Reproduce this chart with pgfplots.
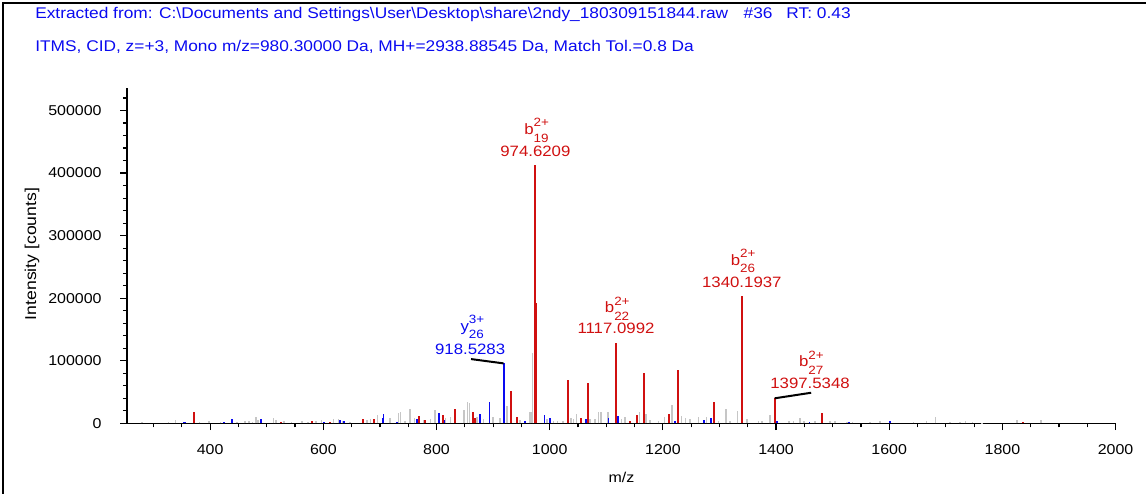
\documentclass[border=0pt]{standalone}
\usepackage{fontspec}
\setmainfont{Liberation Sans}
\usepackage{pgfplots}
\pgfplotsset{compat=1.18}
\definecolor{pkred}{RGB}{208,16,16}
\definecolor{pkblue}{RGB}{10,10,240}
\definecolor{pkgray}{RGB}{198,198,198}
\newcommand{\wide}[1]{\scalebox{1.12}[1]{#1}}
\newcommand{\lab}{\fontsize{10.7}{12}\selectfont}
\newcommand{\ann}{\fontsize{11.25}{13}\selectfont}
% ion label: letter, charge above, index below
\newcommand{\ion}[3]{#1\raisebox{5.5pt}{\rlap{\fontsize{9}{10}\selectfont #2}}\raisebox{-5.8pt}{\fontsize{9}{10}\selectfont #3}}
\tikzset{numlab/.style={anchor=base, font=\ann, inner sep=0pt}}

\begin{document}
\begin{tikzpicture}
\useasboundingbox (-95.25pt,-52.3pt) rectangle (764.25pt,317.5pt);
\draw[line width=1pt] (-93pt,-53pt) -- (-93pt,315.2pt) -- (765pt,315.2pt);
\begin{axis}[
  scale only axis, width=741.45pt, height=251.5pt,
  xmin=253, xmax=2000, ymin=0, ymax=536000,
  axis x line*=bottom, axis y line*=left,
  axis line style={-, line width=1.1pt},
  tick align=outside, major tick length=5pt, minor tick length=3pt,
  tick style={line width=0.9pt, black},
  xtick={400,600,...,2000}, minor xtick={300,350,...,1950},
  ytick={0,100000,...,500000}, minor ytick={20000,40000,...,520000},
  scaled y ticks=false,
  /pgf/number format/.cd, fixed, precision=0, 1000 sep={}, assume math mode=true,
  /pgfplots/.cd,
  xticklabel={\wide{\pgfmathprintnumber{\tick}}},
  yticklabel={\wide{\pgfmathprintnumber{\tick}}},
  ticklabel style={font=\lab},
  xticklabel style={yshift=-7pt},
  yticklabel style={xshift=-10.5pt},
  clip=false,
]
% unassigned peaks
\addplot[ycomb, no markers, pkgray, line width=1.2pt] coordinates {
(280,1600)(326,1600)(339,5300)(381,1600)(398,4300)(418,2700)(447,1600)(461,4300)(469,3200)(475,1600)
(481,9600)(484,5300)(512,8000)(516,5300)(530,3200)(544,1600)(562,4300)(573,1600)(587,4300)(597,5300)
(618,6400)(627,7500)(634,4300)(647,2100)(677,5300)(683,7500)(696,13800)(718,8500)(733,16000)(736,17600)
(744,4300)(753,22900)(761,8500)(777,5300)(789,6400)(797,21300)(816,8500)(825,10600)(849,21300)(855,33500)
(858,32000)(872,10600)(883,6900)(900,10600)(912,8500)(925,28200)(942,9600)
(948,5300)(964,17600)(967,17600)(969.5,113000)(995,6900)(1007,4300)(1014,4300)(1024,4300)(1038,8500)
(1042,6400)(1047,14900)(1071,6900)(1080,6900)(1086,18600)(1091,18600)(1103,17600)(1127,6900)(1133,10600)
(1158.5,17600)(1170,14900)(1177,5300)(1192,4300)(1203,9600)(1216,29800)(1233,12200)(1240,8500)(1248,6900)
(1263,9600)(1277,9600)(1298,4300)(1312,22900)(1319,4300)(1332,19200)(1349,6900)(1369,3200)(1375,4300)
(1389,13300)(1423,3200)(1431,3200)(1442,8000)(1449,4300)(1469,4300)(1495,4300)(1504,4300)(1525,2700)
(1535,2700)(1566,2700)(1584,4300)(1643,1600)(1666,4300)(1682,10600)(1707,2700)(1725,2700)(1735,4300)
(1747,2700)(1764,1100)(1826,5300)(1868,5800)
};
% y ions
\addplot[ycomb, no markers, pkblue, line width=1.4pt] coordinates {
(353,2700)(356,1600)(425,2700)(438,6900)(490,6400)(601.5,2700)(630,5300)(637,3200)(704.5,8500)(706.3,14900)
(730,2100)(765,7500)(805,16000)(813,5300)(877,14900)(893.5,34600)(918.53,95800)(956.5,3200)(990.7,13800)
(1000.2,8500)(1063.8,6900)(1103.8,8500)(1121.4,12200)(1221.6,3200)(1273.4,5300)(1285.2,8500)(1401.2,4300)
(1459,1600)(1529.6,1600)(1601.4,3200)
};
% b ions
\addplot[ycomb, no markers, pkred, line width=1.5pt] coordinates {
(371.2,17600)(525.4,1600)(579.7,3200)(612,2700)(669.8,6400)(689.8,7500)(769.8,12200)(779.3,5300)(812.2,13800)
(832.9,22900)(864.1,17600)(868.8,8000)(931.3,52200)(942,10600)(976.5,192000)(974.62,413000)(1032,69200)
(1055.5,8500)(1067.3,63900)(1117.1,128700)(1142,4300)(1154.4,13800)(1167.3,80400)(1211.5,14900)
(1226,85200)(1290.5,33500)(1340.19,203000)(1397.53,40000)(1480.7,16000)(1836,2700)
};
% connectors
\draw[line width=1.5pt] (axis cs:861,102700) -- (axis cs:918.53,95800);
\draw[line width=1.5pt] (axis cs:1397.53,40000) -- (axis cs:1462,48900);
% annotations
\node[numlab, pkred] at (axis cs:974.62,427000) {\wide{974.6209}};
\node[numlab, pkred] at (axis cs:976.5,462000) {\wide{\ion{b}{2+}{19}}};
\node[numlab, pkred] at (axis cs:1117.1,143800) {\wide{1117.0992}};
\node[numlab, pkred] at (axis cs:1119,177300) {\wide{\ion{b}{2+}{22}}};
\node[numlab, pkred] at (axis cs:1339.5,217200) {\wide{1340.1937}};
\node[numlab, pkred] at (axis cs:1341.5,252900) {\wide{\ion{b}{2+}{26}}};
\node[numlab, pkred] at (axis cs:1460,55900) {\wide{1397.5348}};
\node[numlab, pkred] at (axis cs:1462,90400) {\wide{\ion{b}{2+}{27}}};
\node[numlab, pkblue] at (axis cs:859.4,110700) {\wide{918.5283}};
\node[numlab, pkblue] at (axis cs:863,147400) {\wide{\ion{y}{3+}{26}}};
\end{axis}
\node[font=\lab] at (370.9pt,-40.3pt) {\wide{m/z}};
\node[font=\fontsize{11.8}{13}\selectfont, rotate=90] at (-71.25pt,127pt) {\wide{Intensity [counts]}};
\node[anchor=west, pkblue, font=\fontsize{11.6}{13}\selectfont, inner sep=0pt] at (-69pt,306.5pt)
  {\wide{Extracted from: C:\textbackslash Documents and Settings\textbackslash User\textbackslash Desktop\textbackslash share\textbackslash 2ndy\_180309151844.raw\hspace{0.9em}\#36\hspace{0.8em}RT: 0.43}};
\node[anchor=west, pkblue, font=\fontsize{11.6}{13}\selectfont, inner sep=0pt] at (-69pt,282.5pt)
  {\wide{ITMS, CID, z=+3, Mono m/z=980.30000 Da, MH+=2938.88545 Da, Match Tol.=0.8 Da}};
\end{tikzpicture}
\end{document}
